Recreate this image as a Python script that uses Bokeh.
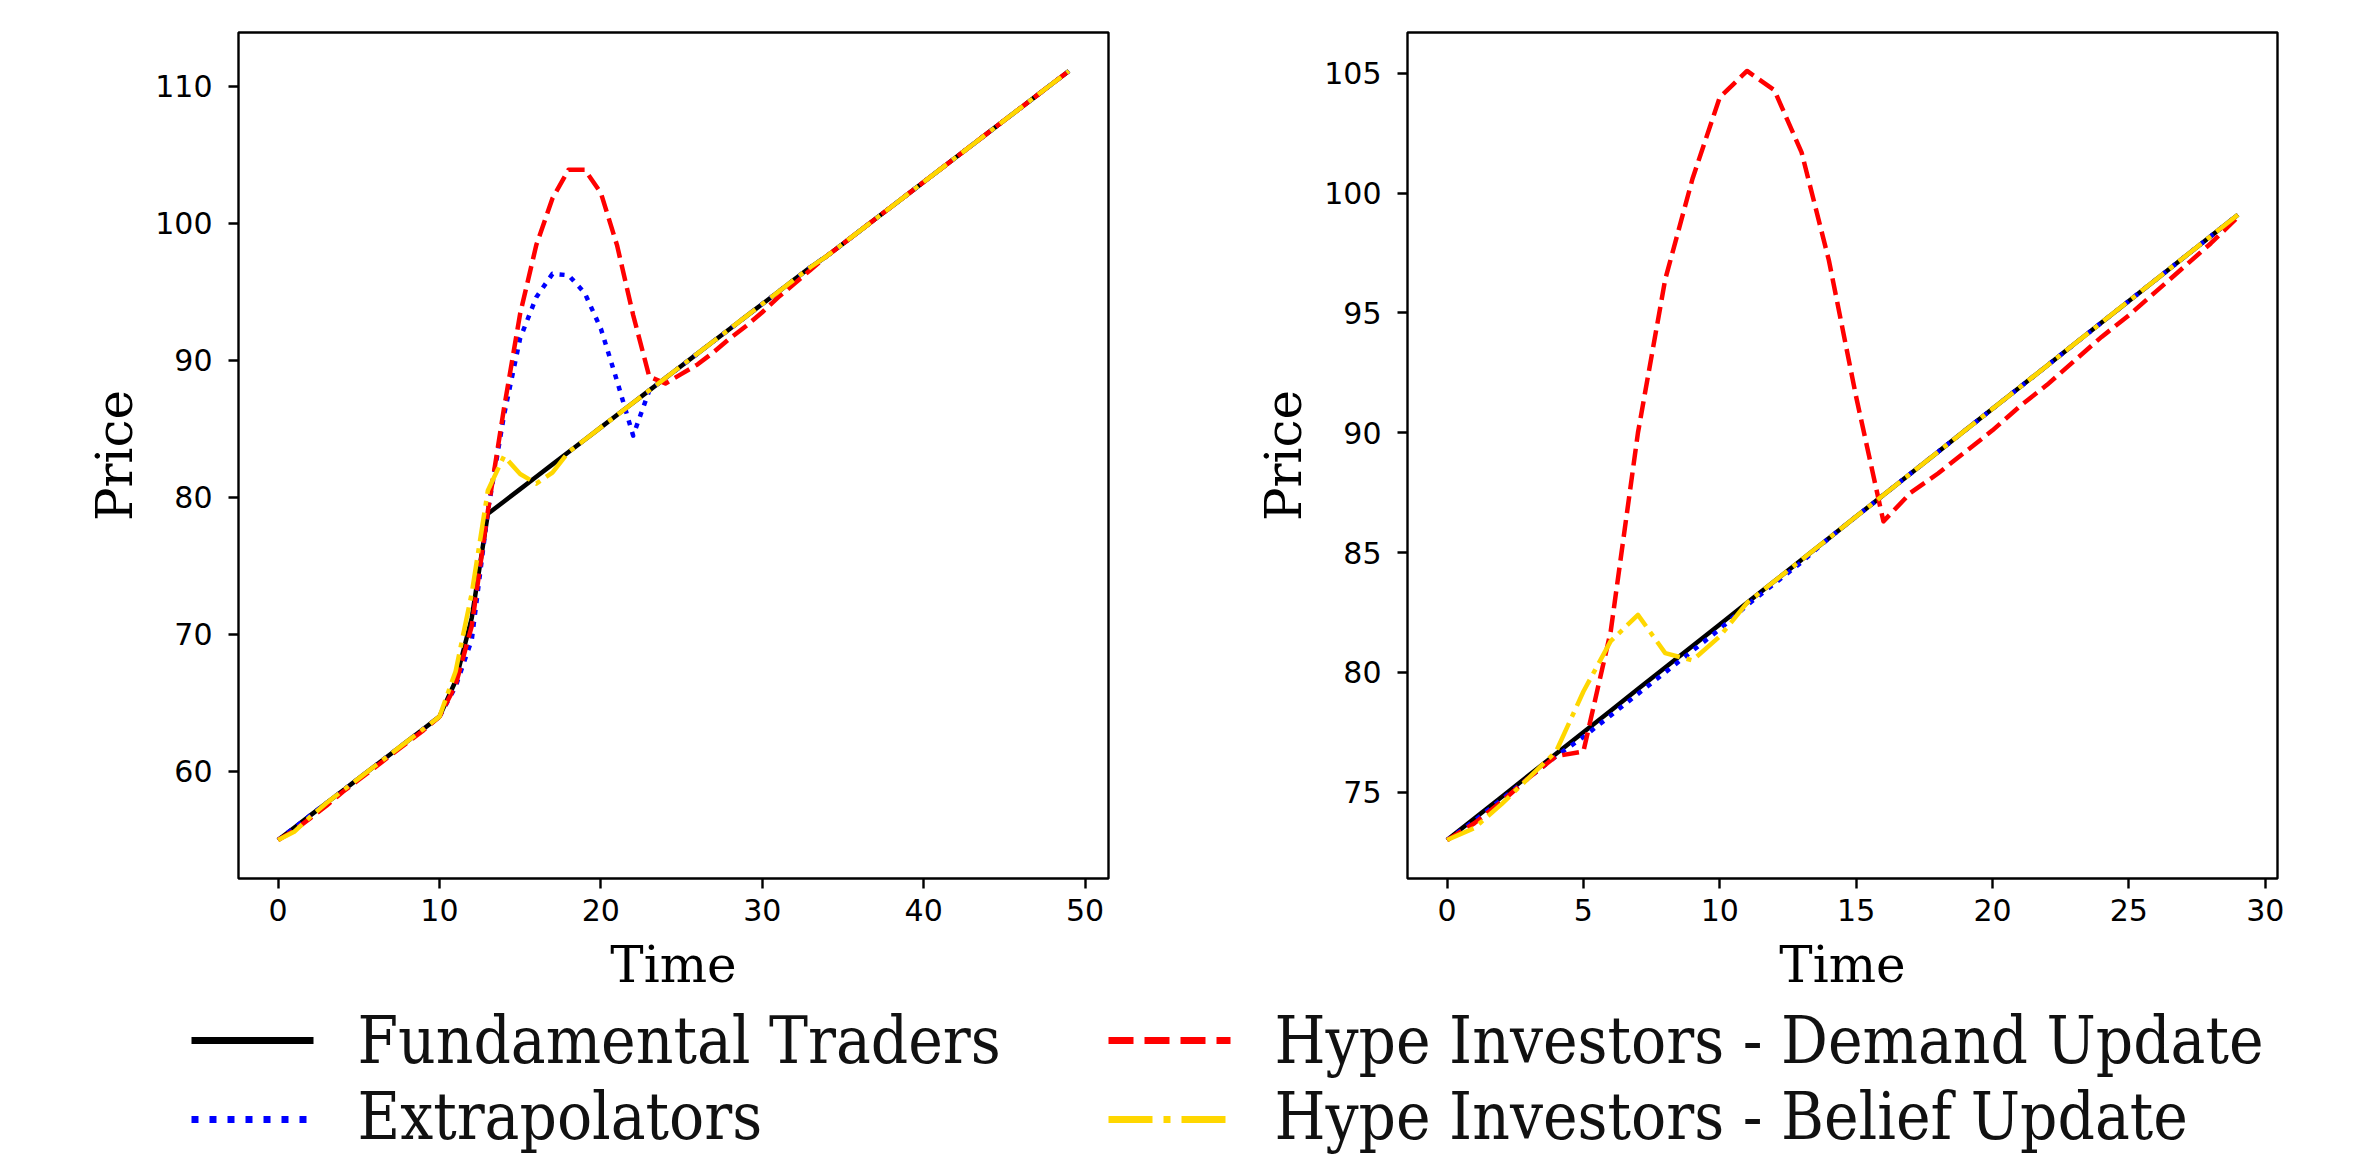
from bokeh.plotting import figure
from bokeh.layouts import column, row
from bokeh.models import Range1d, FixedTicker
from bokeh.embed import file_html
from bokeh.resources import INLINE
from bokeh.core.properties import value

# ---------------- data ----------------
t_left = list(range(50))
fund_left = [55.0, 55.9, 56.8, 57.7, 58.6, 59.5, 60.4, 61.3, 62.2, 63.1, 64.0,
             66.6, 71.2,
             78.8, 79.7, 80.6, 81.5, 82.4, 83.3, 84.2, 85.1, 86.0, 86.9, 87.8,
             88.7, 89.6, 90.5, 91.4, 92.3, 93.2, 94.1, 95.0, 95.9, 96.8, 97.6,
             98.5, 99.4, 100.3, 101.2, 102.1, 103.0, 103.9, 104.8, 105.7, 106.6,
             107.5, 108.4, 109.3, 110.2, 111.1]
extrap_left = [55.0, 55.9, 56.8, 57.7, 58.6, 59.5, 60.4, 61.3, 62.2, 63.1, 64.0,
               66.2, 69.6,
               79.0, 86.0, 91.6, 94.6, 96.3, 96.2, 94.9, 92.3, 88.5, 84.5, 87.8,
               88.7, 89.6, 90.5, 91.4, 92.3, 93.2, 94.1, 95.0, 95.9, 96.8, 97.6,
               98.5, 99.4, 100.3, 101.2, 102.1, 103.0, 103.9, 104.8, 105.7, 106.6,
               107.5, 108.4, 109.3, 110.2, 111.1]
demand_left = [55.0, 55.7, 56.6, 57.5, 58.5, 59.4, 60.3, 61.2, 62.1, 63.0, 64.0,
               66.3, 70.6,
               79.0, 86.5, 93.4, 98.4, 101.8, 103.9, 103.9, 102.2, 98.4, 93.3, 88.8,
               88.3, 89.0, 89.7, 90.6, 91.6, 92.5, 93.5, 94.6, 95.6, 96.6, 97.6,
               98.5, 99.4, 100.3, 101.2, 102.1, 103.0, 103.9, 104.8, 105.7, 106.6,
               107.5, 108.4, 109.3, 110.2, 111.1]
belief_left = [55.0, 55.6, 56.7, 57.7, 58.6, 59.5, 60.4, 61.3, 62.2, 63.1, 64.0,
               67.3, 73.0,
               80.5, 83.0, 81.7, 81.0, 81.8, 83.3, 84.2, 85.1, 86.0, 86.9, 87.8,
               88.7, 89.6, 90.5, 91.4, 92.3, 93.2, 94.1, 95.0, 95.9, 96.8, 97.6,
               98.5, 99.4, 100.3, 101.2, 102.1, 103.0, 103.9, 104.8, 105.7, 106.6,
               107.5, 108.4, 109.3, 110.2, 111.1]

t_right = list(range(30))
fund_right = [73.0, 73.9, 74.8, 75.7, 76.6, 77.5, 78.4, 79.3, 80.2, 81.1,
              82.0, 82.9, 83.8, 84.7, 85.6, 86.5, 87.4, 88.3, 89.2, 90.1,
              91.0, 91.9, 92.8, 93.7, 94.6, 95.5, 96.4, 97.3, 98.2, 99.1]
extrap_right = [73.0, 73.8, 74.7, 75.6, 76.5, 77.3, 78.2, 79.1, 80.0, 80.9,
                81.8, 82.8, 83.7, 84.6, 85.6, 86.5, 87.4, 88.3, 89.2, 90.1,
                91.0, 91.9, 92.8, 93.7, 94.6, 95.5, 96.4, 97.3, 98.2, 99.1]
demand_right = [73.0, 73.7, 74.6, 75.6, 76.5, 76.7, 81.7, 90.0, 96.4, 100.6,
                104.0, 105.1, 104.3, 101.7, 97.2, 91.5, 86.3, 87.5, 88.3, 89.2,
                90.1, 91.1, 92.0, 93.0, 94.0, 94.9, 95.9, 96.9, 97.9, 99.0]
belief_right = [73.0, 73.5, 74.5, 75.6, 76.7, 79.2, 81.3, 82.4, 80.8, 80.5,
                81.5, 82.9, 83.8, 84.7, 85.6, 86.5, 87.4, 88.3, 89.2, 90.1,
                91.0, 91.9, 92.8, 93.7, 94.6, 95.5, 96.4, 97.3, 98.2, 99.1]

xticks_left = [0, 10, 20, 30, 40, 50]
yticks_left = [60, 70, 80, 90, 100, 110]
xticks_right = [0, 5, 10, 15, 20, 25, 30]
yticks_right = [75, 80, 85, 90, 95, 100, 105]

x_label = "Time"
y_label = "Price"
series_names = ["Fundamental Traders", "Extrapolators",
                "Hype Investors - Demand Update", "Hype Investors - Belief Update"]
series_colors = ["#000000", "#0000ff", "#ff0000", "#ffd700"]
plot_dashes = ["solid", "5 7", "17 7", "29 7 5 7"]
legend_dashes = ["solid", "7 11", "25 11", "44 11 7 11"]

# ---------------- layout constants ----------------
FRAME_W, FRAME_H = 870, 846
TOP, BOTTOM = 32, 56
L1, R1, L2, R2 = 238, 142, 157, 72
PAGE_W = L1 + FRAME_W + R1 + L2 + FRAME_W + R2
PAGE_H = 1156


def padded(vals):
    lo, hi = min(vals), max(vals)
    pad = 0.05 * (hi - lo)
    return Range1d(lo - pad, hi + pad)


def make_plot(t, series, xticks, yticks, left, right):
    allv = [v for s in series for v in s]
    p = figure(width=left + FRAME_W + right, height=TOP + FRAME_H + BOTTOM,
               x_range=padded(t), y_range=padded(allv),
               output_backend="svg", toolbar_location=None,
               min_border_left=left, min_border_right=right,
               min_border_top=TOP, min_border_bottom=BOTTOM)
    for s, c, d in zip(series, series_colors, plot_dashes):
        p.line(t, s, line_color=c, line_width=4.5, line_dash=d,
               line_join="round", line_cap="butt")
    p.xgrid.visible = False
    p.ygrid.visible = False
    p.outline_line_color = "#000000"
    p.outline_line_width = 2.4
    p.background_fill_color = "white"
    p.border_fill_color = "white"
    p.xaxis.ticker = FixedTicker(ticks=xticks)
    p.yaxis.ticker = FixedTicker(ticks=yticks)
    p.yaxis.axis_label = y_label
    for ax in (p.xaxis, p.yaxis):
        ax.axis_line_color = None
        ax.major_tick_line_color = "#000000"
        ax.major_tick_line_width = 2.4
        ax.major_tick_out = 10
        ax.major_tick_in = 0
        ax.minor_tick_line_color = None
        ax.major_label_text_font = "DejaVu Sans"
        ax.major_label_text_font_size = "30px"
        ax.major_label_text_color = "#000000"
        ax.axis_label_text_font = "DejaVu Serif"
        ax.axis_label_text_font_size = "50px"
        ax.axis_label_text_font_style = "normal"
        ax.axis_label_text_color = "#000000"
    p.xaxis.major_label_standoff = 10
    p.yaxis.major_label_standoff = 16
    p.yaxis.axis_label_standoff = 8
    return p


p1 = make_plot(t_left, [fund_left, extrap_left, demand_left, belief_left],
               xticks_left, yticks_left, L1, R1)
p2 = make_plot(t_right, [fund_right, extrap_right, demand_right, belief_right],
               xticks_right, yticks_right, L2, R2)

# ---------------- strip below: x-axis titles + legend ----------------
STRIP_TOP = TOP + FRAME_H + BOTTOM
STRIP_H = PAGE_H - STRIP_TOP
leg = figure(width=PAGE_W, height=STRIP_H,
             x_range=Range1d(0, PAGE_W), y_range=Range1d(PAGE_H, STRIP_TOP),
             output_backend="svg", toolbar_location=None, min_border=0)
leg.axis.visible = False
leg.xgrid.visible = False
leg.ygrid.visible = False
leg.outline_line_color = None

# x-axis titles, centred under each frame
frame_centres = [L1 + FRAME_W / 2, L1 + FRAME_W + R1 + L2 + FRAME_W / 2]
leg.text(frame_centres, [964, 964], text=[x_label, x_label],
         text_font=value("DejaVu Serif"), text_font_size="50px",
         text_color="#000000", text_baseline="middle", text_align="center")

col_x = [191, 1108]
line_y = [1040, 1119]
text_y = [1040, 1116]
sample_len = 122
text_gap = 44
for i, (name, c, d) in enumerate(zip(series_names, series_colors, legend_dashes)):
    cx = col_x[i // 2]
    leg.line([cx, cx + sample_len], [line_y[i % 2], line_y[i % 2]], line_color=c,
             line_width=6.8, line_dash=d, line_cap="butt")
    leg.text([cx + sample_len + text_gap], [text_y[i % 2]], text=[name],
             text_font=value("DejaVu Serif Condensed"), text_font_size="65px",
             text_color="#111111", text_baseline="middle", text_align="left")

layout = column(row(p1, p2), leg)
open("out.html", "w").write(file_html(layout, INLINE))
